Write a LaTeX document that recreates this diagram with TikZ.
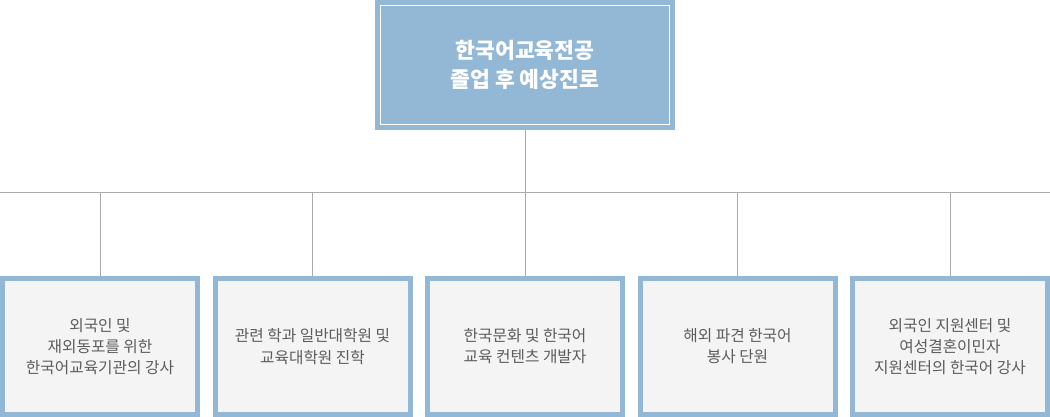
\documentclass[tikz,border=0pt]{standalone}
\usepackage{fontspec}
\setmainfont{Noto Sans CJK KR}
\definecolor{pathblue}{HTML}{93B8D6}
\definecolor{cardgray}{HTML}{F4F4F4}
\definecolor{wiregray}{HTML}{ABABAB}
\definecolor{cardtext}{HTML}{5C5C5C}
\tikzset{
  card/.style={draw=pathblue,line width=3.75pt,fill=cardgray,minimum width=146.25pt,
    minimum height=102pt,inner sep=0pt,align=center,text=cardtext,
    font=\fontsize{11.8}{15.9}\selectfont},
  wire/.style={draw=wiregray,line width=0.75pt}
}
\begin{document}
\begin{tikzpicture}[x=0.75pt,y=-0.75pt]
\useasboundingbox (0,0) rectangle (1050,417);
\node[fill=pathblue,minimum width=225pt,minimum height=97.5pt,inner sep=0pt,align=center,
  text=white,font=\fontsize{16.2}{21.9}\selectfont\bfseries] (title) at (525,65)
  {한국어교육전공\\졸업 후 예상진로};
\draw[white,line width=0.75pt] ([shift={(6,6)}]title.north west) rectangle ([shift={(-6,-6)}]title.south east);
\coordinate (railL) at (0,193);
\coordinate (railR) at (1050,193);
\draw[wire] (railL) -- (railR);
\draw[wire] (title.south) -- (title.south |- railL);
\node[card] (lecturer) at (100,346.5) {외국인 및\\재외동포를 위한\\한국어교육기관의 강사};
\node[card] (grad) at (312.5,346.5) {관련 학과 일반대학원 및\\교육대학원 진학};
\node[card] (content) at (525,346.5) {한국문화 및 한국어\\교육 컨텐츠 개발자};
\node[card] (abroad) at (737.5,346.5) {해외 파견 한국어\\봉사 단원};
\node[card] (center) at (950,346.5) {외국인 지원센터 및\\여성결혼이민자\\지원센터의 한국어 강사};
\draw[wire] (lecturer.north |- railL) -- (lecturer.north);
\draw[wire] (grad.north |- railL) -- (grad.north);
\draw[wire] (content.north |- railL) -- (content.north);
\draw[wire] (abroad.north |- railL) -- (abroad.north);
\draw[wire] (center.north |- railL) -- (center.north);
\end{tikzpicture}
\end{document}
